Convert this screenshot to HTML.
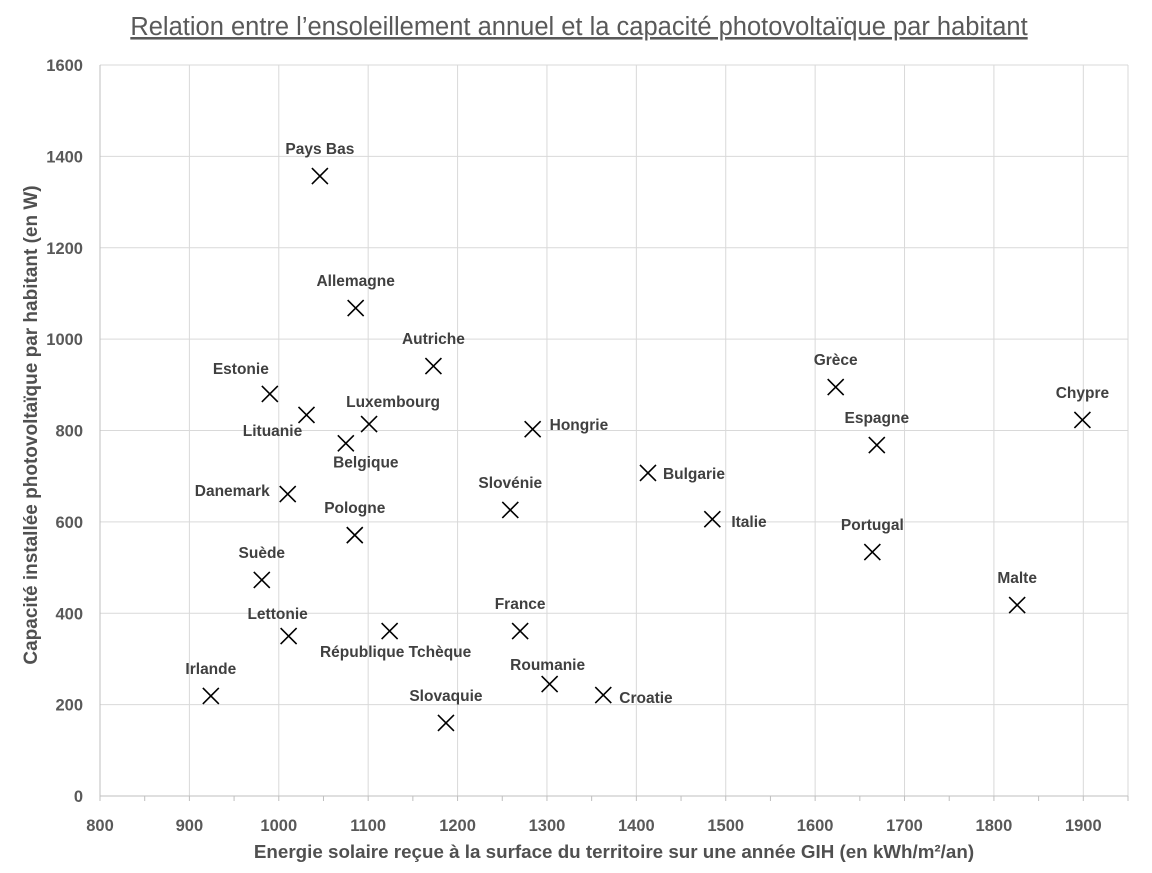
<!DOCTYPE html>
<html><head><meta charset="utf-8"><style>
body{margin:0;background:#fff;}
svg text{font-family:"Liberation Sans",sans-serif;}
</style></head><body>
<svg id="chart" width="1152" height="868" xmlns="http://www.w3.org/2000/svg">
<rect width="1152" height="868" fill="#fff"/>
<text x="579" y="35" text-anchor="middle" font-size="25.5" fill="#595959" text-decoration="underline">Relation entre l’ensoleillement annuel et la capacité photovoltaïque par habitant</text>
<g id="grid"></g><g id="axes"></g><g id="marks"></g>
<text x="614" y="858" text-anchor="middle" font-size="18.8" font-weight="bold" fill="#505050">Energie solaire reçue à la surface du territoire sur une année GIH (en kWh/m²/an)</text>
<text transform="translate(37,425) rotate(-90)" text-anchor="middle" font-size="19" font-weight="bold" fill="#505050">Capacité installée photovoltaïque par habitant (en W)</text>
</svg>
<script>
const countries=["Pays Bas","Allemagne","Autriche","Estonie","Lituanie","Luxembourg","Belgique","Hongrie","Danemark","Pologne","Slovénie","Bulgarie","Italie","Grèce","Espagne","Chypre","Portugal","Malte","Suède","Lettonie","République Tchèque","France","Roumanie","Croatie","Irlande","Slovaquie"];
const sunshine=[1046,1086,1173,990,1031,1101,1075,1284,1010,1085,1259,1413,1485,1623,1669,1899,1664,1826,981,1011,1124,1270,1303,1363,924,1187];
const capacity=[1357,1068,941,880,834,814,772,803,661,571,626,707,606,895,768,823,534,418,473,350,361,361,245,221,219,160];
const xTicks=[800,900,1000,1100,1200,1300,1400,1500,1600,1700,1800,1900];
const yTicks=[0,200,400,600,800,1000,1200,1400,1600];
const lp={"Lituanie":[-34,21,"middle"],"Estonie":[-29,-20,"middle"],"Luxembourg":[24,-17,"middle"],"Belgique":[20,24,"middle"],"Hongrie":[17,1,"start"],"Danemark":[-18,2,"end"],"Bulgarie":[15,6,"start"],"Italie":[19,8,"start"],"Lettonie":[-11,-17,"middle"],"République Tchèque":[6,26,"middle"],"Croatie":[16,8,"start"],"Roumanie":[-2,-14,"middle"]};
const NS="http://www.w3.org/2000/svg";
const X0=100,X1=1128,XMIN=800,XMAX=1950,Y0=796,Y1=65,YMAX=1600;
const sx=v=>X0+(v-XMIN)/(XMAX-XMIN)*(X1-X0);
const sy=v=>Y0-v/YMAX*(Y0-Y1);
function mk(tag,attrs,parent){const e=document.createElementNS(NS,tag);for(const k in attrs)e.setAttribute(k,attrs[k]);parent.appendChild(e);return e;}
const grid=document.getElementById('grid'),axes=document.getElementById('axes'),marks=document.getElementById('marks');
xTicks.forEach(t=>{if(t>XMIN){const g=mk('line',{x1:sx(t),x2:sx(t),y1:Y1,y2:Y0,stroke:'#d9d9d9'},grid);}
const l=mk('text',{x:sx(t),y:Y0+35,'text-anchor':'middle','font-size':16.5,'font-weight':'bold',fill:'#595959'},axes);l.textContent=t;
mk('line',{x1:sx(t),x2:sx(t),y1:Y0,y2:Y0+5,stroke:'#bfbfbf'},axes);mk('line',{x1:sx(t+50),x2:sx(t+50),y1:Y0,y2:Y0+5,stroke:'#bfbfbf'},axes);});
mk('line',{x1:X1,x2:X1,y1:Y1,y2:Y0,stroke:'#d9d9d9'},grid);
yTicks.forEach(t=>{if(t>0){const g=mk('line',{x1:X0,x2:X1,y1:sy(t),y2:sy(t),stroke:'#d9d9d9'},grid);}
const l=mk('text',{x:X0-17,y:sy(t)+6,'text-anchor':'end','font-size':16.5,'font-weight':'bold',fill:'#595959'},axes);l.textContent=t;});
mk('line',{x1:X0,x2:X1,y1:Y0,y2:Y0,stroke:'#bfbfbf'},axes);
mk('line',{x1:X0,x2:X0,y1:Y1,y2:Y0,stroke:'#bfbfbf'},axes);
countries.forEach((c,i)=>{const x=sx(sunshine[i]),y=sy(capacity[i]);
const g=mk('g',{},marks);


const s=8;
mk('path',{d:`M${x-s} ${y-s}L${x+s} ${y+s}M${x+s} ${y-s}L${x-s} ${y+s}`,stroke:'#000','stroke-width':1.6},g);
const p=lp[c]||[0,-22,"middle"];
const t=mk('text',{x:x+p[0],y:y+p[1],'text-anchor':p[2],'font-size':15.5,'font-weight':'bold',fill:'#404040'},g);
t.textContent=c;

});
</script>
</body></html>
